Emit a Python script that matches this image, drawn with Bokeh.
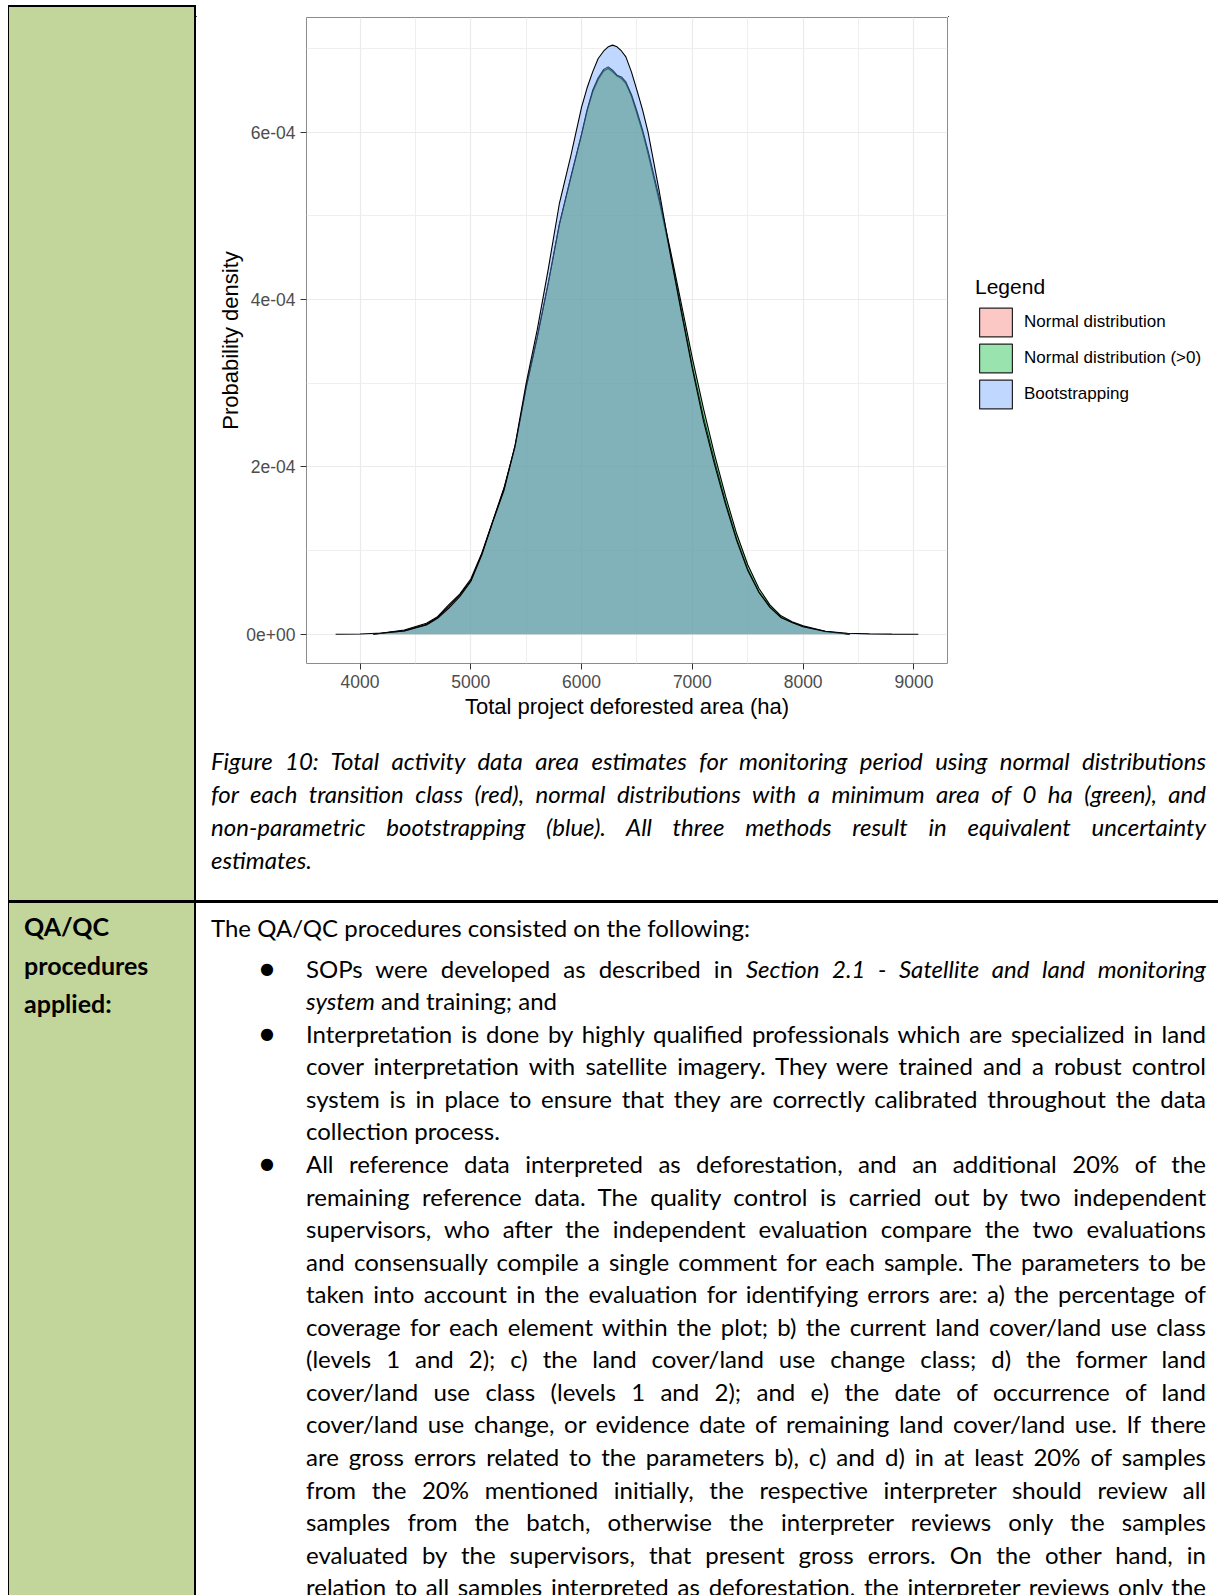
from bokeh.plotting import figure
from bokeh.models import Range1d, FixedTicker, Legend, LegendItem, Div, ColumnDataSource
from bokeh.layouts import row, column
from bokeh.embed import file_html
from bokeh.resources import INLINE

# ---------------- chart data ----------------
x_ticks = [4000, 5000, 6000, 7000, 8000, 9000]
x_tick_labels = ["4000", "5000", "6000", "7000", "8000", "9000"]
x_minor = [4500, 5500, 6500, 7500, 8500]
y_ticks = [0.0, 0.0002, 0.0004, 0.0006]
y_tick_labels = ["0e+00", "2e-04", "4e-04", "6e-04"]
y_minor = [0.0001, 0.0003, 0.0005, 0.0007]

series_names = ["Normal distribution", "Normal distribution (>0)", "Bootstrapping"]
series_colors = ["#F8766D", "#00BA38", "#619CFF"]

normal_x = [4120, 4400, 4600, 4700, 4800, 4900, 5000, 5100, 5200, 5300, 5400, 5500, 5600,
            5700, 5800, 5900, 6000, 6050, 6100, 6150, 6200, 6240, 6280, 6320, 6360, 6400,
            6450, 6500, 6550, 6600, 6700, 6800, 6900, 7000, 7100, 7200, 7300, 7400, 7500,
            7600, 7700, 7800, 7900, 8000, 8200, 8420]
normal_y = [0.0, 5e-6, 1.3e-5, 2.1e-5, 3.5e-5, 4.8e-5, 6.6e-5, 9.7e-5, 1.36e-4, 1.75e-4,
            2.25e-4, 2.95e-4, 3.55e-4, 4.2e-4, 4.9e-4, 5.44e-4, 5.97e-4, 6.25e-4, 6.48e-4,
            6.63e-4, 6.73e-4, 6.76e-4, 6.72e-4, 6.67e-4, 6.64e-4, 6.58e-4, 6.43e-4, 6.22e-4,
            6.0e-4, 5.74e-4, 5.18e-4, 4.55e-4, 3.88e-4, 3.2e-4, 2.6e-4, 2.07e-4, 1.58e-4,
            1.14e-4, 7.8e-5, 5.1e-5, 3.3e-5, 2.0e-5, 1.4e-5, 9e-6, 3e-6, 0.0]

normal_pos_x = [4120, 4400, 4600, 4700, 4800, 4900, 5000, 5100, 5200, 5300, 5400, 5500, 5600,
                5700, 5800, 5900, 6000, 6050, 6100, 6150, 6200, 6240, 6280, 6320, 6360, 6400,
                6450, 6500, 6550, 6600, 6700, 6800, 6900, 7000, 7100, 7200, 7300, 7400, 7500,
                7600, 7700, 7800, 7900, 8000, 8200, 8420]
normal_pos_y = [0.0, 4e-6, 1.2e-5, 2.0e-5, 3.3e-5, 4.7e-5, 6.4e-5, 9.6e-5, 1.35e-4, 1.74e-4,
                2.24e-4, 2.95e-4, 3.55e-4, 4.2e-4, 4.9e-4, 5.45e-4, 5.98e-4, 6.27e-4, 6.5e-4,
                6.65e-4, 6.75e-4, 6.78e-4, 6.74e-4, 6.68e-4, 6.66e-4, 6.6e-4, 6.45e-4, 6.25e-4,
                6.03e-4, 5.78e-4, 5.22e-4, 4.6e-4, 3.95e-4, 3.3e-4, 2.7e-4, 2.15e-4, 1.65e-4,
                1.2e-4, 8.3e-5, 5.5e-5, 3.5e-5, 2.2e-5, 1.5e-5, 1.0e-5, 3.5e-6, 0.0]

bootstrap_x = [3780, 4000, 4200, 4400, 4600, 4700, 4800, 4900, 5000, 5100, 5200, 5300, 5400,
               5500, 5600, 5700, 5800, 5900, 5950, 6000, 6050, 6100, 6150, 6200, 6240, 6280,
               6320, 6360, 6400, 6450, 6500, 6550, 6600, 6700, 6800, 6900, 7000, 7100, 7200,
               7300, 7400, 7500, 7600, 7700, 7800, 7900, 8000, 8200, 8400, 8600, 8800, 9040]
bootstrap_y = [0.0, 3e-7, 1.5e-6, 4e-6, 1.1e-5, 1.9e-5, 3.1e-5, 4.5e-5, 6.3e-5, 9.5e-5,
               1.35e-4, 1.72e-4, 2.26e-4, 3.0e-4, 3.64e-4, 4.37e-4, 5.15e-4, 5.7e-4, 6.0e-4,
               6.3e-4, 6.53e-4, 6.72e-4, 6.88e-4, 6.97e-4, 7.02e-4, 7.04e-4, 7.02e-4, 6.97e-4,
               6.9e-4, 6.72e-4, 6.5e-4, 6.27e-4, 6.0e-4, 5.3e-4, 4.55e-4, 3.85e-4, 3.17e-4,
               2.55e-4, 2.03e-4, 1.55e-4, 1.12e-4, 7.6e-5, 5.0e-5, 3.2e-5, 2.0e-5, 1.4e-5,
               9e-6, 3.5e-6, 1.2e-6, 4e-7, 1e-7, 0.0]

series_x = [normal_x, normal_pos_x, bootstrap_x]
series_y = [normal_y, normal_pos_y, bootstrap_y]

# ---------------- document text ----------------
caption_lines = [
    "Figure 10: Total activity data area estimates for monitoring period using normal distributions",
    "for each transition class (red), normal distributions with a minimum area of 0 ha (green), and",
    "non-parametric bootstrapping (blue). All three methods result in equivalent uncertainty",
    "estimates.",
]
label_lines = ["QA/QC", "procedures", "applied:"]
intro_line = "The QA/QC procedures consisted on the following:"
bullets = [
    ["SOPs were developed as described in <i>Section 2.1 - Satellite and land monitoring</i>",
     "<i>system</i> and training; and"],
    ["Interpretation is done by highly qualified professionals which are specialized in land",
     "cover interpretation with satellite imagery. They were trained and a robust control",
     "system is in place to ensure that they are correctly calibrated throughout the data",
     "collection process."],
    ["All reference data interpreted as deforestation, and an additional 20% of the",
     "remaining reference data. The quality control is carried out by two independent",
     "supervisors, who after the independent evaluation compare the two evaluations",
     "and consensually compile a single comment for each sample. The parameters to be",
     "taken into account in the evaluation for identifying errors are: a) the percentage of",
     "coverage for each element within the plot; b) the current land cover/land use class",
     "(levels 1 and 2); c) the land cover/land use change class; d) the former land",
     "cover/land use class (levels 1 and 2); and e) the date of occurrence of land",
     "cover/land use change, or evidence date of remaining land cover/land use. If there",
     "are gross errors related to the parameters b), c) and d) in at least 20% of samples",
     "from the 20% mentioned initially, the respective interpreter should review all",
     "samples from the batch, otherwise the interpreter reviews only the samples",
     "evaluated by the supervisors, that present gross errors. On the other hand, in",
     "relation to all samples interpreted as deforestation, the interpreter reviews only the"],
]
bullet_last_justified = [False, False, True]

GREEN = "#C2D69B"
DOC_FONT = "Lato"
RIGHT_W = 1022
TOP_H = 895
BOTTOM_H = 695
FIG_H = 719
CAP_H = TOP_H - 1 - FIG_H

# ---------------- chart ----------------
p = figure(width=752, height=FIG_H, x_range=Range1d(3517, 9303), y_range=Range1d(-3.5e-5, 7.37e-4),
           output_backend="svg", toolbar_location=None,
           min_border_left=110, min_border_right=1, min_border_top=11, min_border_bottom=62,
           background_fill_color="white", border_fill_color="white", margin=0)
p.outline_line_color = "#8c8c8c"
p.outline_line_width = 1

p.xaxis.ticker = FixedTicker(ticks=x_ticks)
p.xaxis.major_label_overrides = dict(zip(x_ticks, x_tick_labels))
p.yaxis.ticker = FixedTicker(ticks=y_ticks)
p.yaxis.major_label_overrides = dict(zip(y_ticks, y_tick_labels))
p.xgrid.ticker = FixedTicker(ticks=x_ticks, minor_ticks=x_minor)
p.ygrid.ticker = FixedTicker(ticks=y_ticks, minor_ticks=y_minor)
for g in (p.xgrid[0], p.ygrid[0]):
    g.grid_line_color = "#EBEBEB"
    g.grid_line_width = 1.2
    g.minor_grid_line_color = "#EFEFEF"
    g.minor_grid_line_width = 1

p.xaxis.axis_label = "Total project deforested area (ha)"
p.yaxis.axis_label = "Probability density"
for ax in (p.xaxis[0], p.yaxis[0]):
    ax.axis_line_color = None
    ax.major_tick_line_color = "#333333"
    ax.major_tick_out = 6
    ax.major_tick_in = 0
    ax.minor_tick_line_color = None
    ax.major_label_text_font = "Liberation Sans"
    ax.major_label_text_font_size = "17.5px"
    ax.major_label_text_color = "#4D4D4D"
    ax.major_label_standoff = 5
    ax.axis_label_text_font = "Liberation Sans"
    ax.axis_label_text_font_size = "22px"
    ax.axis_label_text_font_style = "normal"
    ax.axis_label_text_color = "#000000"
p.xaxis.axis_label_standoff = 3
p.yaxis.axis_label_standoff = 0

for name, color, xs, ys in zip(series_names, series_colors, series_x, series_y):
    p.varea(x=xs, y1=0, y2=ys, fill_color=color, fill_alpha=0.4)
    p.line(xs, ys, line_color="black", line_width=1.1)

# legend panel (separate figure to the right of the chart frame)
lg = figure(width=RIGHT_W - 752, height=FIG_H, x_range=Range1d(0, 1), y_range=Range1d(0, 1),
            output_backend="svg", toolbar_location=None, x_axis_type=None, y_axis_type=None,
            min_border=0, outline_line_color=None, background_fill_color="white",
            border_fill_color="white", margin=0)
lg.grid.visible = False
# legend-key proxies: one placeholder box each, kept outside the visible range
proxy = ColumnDataSource(dict(left=[5], right=[6], top=[6], bottom=[5]))
items = []
for name, color in zip(series_names, series_colors):
    key = lg.quad(left="left", right="right", top="top", bottom="bottom", source=proxy,
                  fill_color=color, fill_alpha=0.4, line_color="#222222", line_width=1.2)
    items.append(LegendItem(label=name, renderers=[key]))
legend = Legend(items=items, location=(27, 251), title="Legend",
                glyph_width=41, glyph_height=36, spacing=0, padding=0, margin=0,
                label_standoff=8, title_standoff=5,
                border_line_color=None, background_fill_alpha=0)
legend.title_text_font = "Liberation Sans"
legend.title_text_font_size = "21px"
legend.title_text_font_style = "normal"
legend.title_text_color = "#000000"
legend.label_text_font = "Liberation Sans"
legend.label_text_font_size = "17px"
legend.label_text_color = "#000000"
lg.add_layout(legend)

# ---------------- document parts ----------------
JUST = "white-space:nowrap;text-align:justify;text-align-last:justify;"
LEFT = "white-space:nowrap;text-align:left;"

div_tl = Div(width=188, height=TOP_H, margin=0, text=(
    f'<div style="box-sizing:border-box;width:188px;height:{TOP_H}px;background:{GREEN};'
    'border-left:1px solid #000;border-right:2px solid #000;border-top:2px solid #000;"></div>'))

top_line = Div(width=RIGHT_W, height=1, margin=0,
               text=f'<div style="width:{RIGHT_W}px;height:1px;background:#000;"></div>')

cap_html = "".join(
    f'<div style="{JUST if i < len(caption_lines) - 1 else LEFT}">{t}</div>'
    for i, t in enumerate(caption_lines))
caption_div = Div(width=RIGHT_W, height=CAP_H, margin=0, text=(
    f'<div style="box-sizing:border-box;width:{RIGHT_W}px;height:{CAP_H}px;padding:20px 12px 0 15px;'
    f'font-family:{DOC_FONT};font-style:italic;font-size:24px;line-height:32.9px;color:#000;">'
    f'{cap_html}</div>'))

label_html = "".join(f'<div>{t}</div>' for t in label_lines)
div_bl = Div(width=188, height=BOTTOM_H, margin=0, text=(
    f'<div style="box-sizing:border-box;width:188px;height:{BOTTOM_H}px;background:{GREEN};'
    'border-left:1px solid #000;border-right:2px solid #000;border-top:3px solid #000;'
    f'padding:4px 0 0 15px;font-family:{DOC_FONT};font-weight:bold;font-size:25px;'
    f'line-height:38.5px;color:#000;">{label_html}</div>'))

body = [f'<div style="{LEFT}margin-bottom:8px;">{intro_line}</div>']
for lines, last_just in zip(bullets, bullet_last_justified):
    inner = "".join(
        f'<div style="{JUST if (i < len(lines) - 1 or last_just) else LEFT}">{t}</div>'
        for i, t in enumerate(lines))
    body.append(
        '<div style="position:relative;padding-left:95px;">'
        '<span style="position:absolute;left:49px;top:0px;font-family:\'DejaVu Sans\';'
        'font-size:16px;line-height:32.56px;">&#9679;</span>'
        f'{inner}</div>')
div_br = Div(width=RIGHT_W, height=BOTTOM_H, margin=0, text=(
    f'<div style="box-sizing:border-box;width:{RIGHT_W}px;height:{BOTTOM_H}px;overflow:hidden;'
    'border-top:3px solid #000;padding:9px 12px 0 15px;'
    f'font-family:{DOC_FONT};font-size:24px;line-height:32.56px;color:#000;">'
    f'{"".join(body)}</div>'))

top_right = column(top_line, row(p, lg, margin=0, spacing=0), caption_div, margin=0, spacing=0)
layout = column(row(div_tl, top_right, margin=0, spacing=0),
                row(div_bl, div_br, margin=0, spacing=0), margin=(5, 0, 0, 8), spacing=0)

open("out.html", "w").write(file_html(layout, INLINE, title="Figure 10"))
